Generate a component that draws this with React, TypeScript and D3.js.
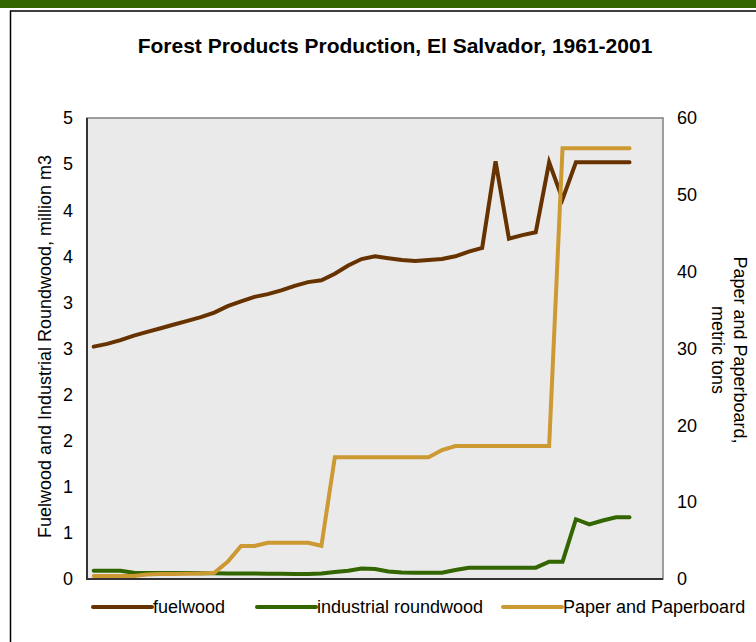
import React from 'react';
import * as d3 from 'd3';

// years 1961-2001; the category axis in the source runs two slots longer
const years = d3.range(1961, 2002);
const axisFirstYear = 1961;
const axisLastYear = 2003;

// million m3
const fuelwood = [
  2.52, 2.55, 2.59, 2.64, 2.68, 2.72, 2.76, 2.8, 2.84, 2.89,
  2.96, 3.01, 3.06, 3.09, 3.13, 3.18, 3.22, 3.24, 3.31, 3.4,
  3.47, 3.5, 3.48, 3.46, 3.45, 3.46, 3.47, 3.5, 3.55, 3.59,
  4.53, 3.69, 3.73, 3.76, 4.52, 4.12, 4.52, 4.52, 4.52, 4.52, 4.52,
];

// million m3
const industrialRoundwood = [
  0.09, 0.09, 0.09, 0.068, 0.065, 0.065, 0.065, 0.064, 0.063, 0.062,
  0.061, 0.06, 0.059, 0.058, 0.056, 0.054, 0.054, 0.06, 0.076, 0.09,
  0.114, 0.108, 0.081, 0.07, 0.068, 0.068, 0.068, 0.098, 0.123, 0.123,
  0.123, 0.123, 0.123, 0.123, 0.188, 0.188, 0.648, 0.593, 0.634, 0.669, 0.669,
];

// metric tons
const paper = [
  0.39, 0.39, 0.39, 0.39, 0.59, 0.65, 0.65, 0.68, 0.72, 0.82,
  2.25, 4.3, 4.3, 4.72, 4.72, 4.72, 4.72, 4.33, 15.84, 15.84,
  15.84, 15.84, 15.84, 15.84, 15.84, 15.84, 16.79, 17.31, 17.31, 17.31,
  17.31, 17.31, 17.31, 17.31, 17.31, 56.06, 56.06, 56.06, 56.06, 56.06, 56.06,
];

const leftTicks = d3.range(0, 5.01, 0.5);
const leftTickLabels = ['0', '1', '1', '2', '2', '3', '3', '4', '4', '5', '5'];
const rightTicks = [0, 10, 20, 30, 40, 50, 60];

const series = [
  { name: 'fuelwood', values: fuelwood, axis: 'left', color: '#663300' },
  { name: 'industrial roundwood', values: industrialRoundwood, axis: 'left', color: '#336600' },
  { name: 'Paper and Paperboard', values: paper, axis: 'right', color: '#cc9933' },
];

export default function App() {
  const W = 756;
  const H = 642;
  const plot = { left: 87, right: 663, top: 118, bottom: 579 };
  const font = '"Liberation Sans", Arial, sans-serif';

  const x = d3.scaleLinear()
    .domain([axisFirstYear - 0.5, axisLastYear + 0.5])
    .range([plot.left, plot.right]);
  const yLeft = d3.scaleLinear().domain([0, 5]).range([plot.bottom, plot.top]);
  const yRight = d3.scaleLinear().domain([0, 60]).range([plot.bottom, plot.top]);

  const lineFor = (axis: string) =>
    d3.line<number>()
      .x((_, i) => x(years[i]))
      .y(d => (axis === 'left' ? yLeft(d) : yRight(d)));

  const legendX = [93, 257, 503];

  return (
    <svg width={W} height={H} style={{ position: 'absolute', left: 0, top: 0, fontFamily: font }}>
      <rect x={0} y={0} width={W} height={H} fill="#fff" />
      <rect x={0} y={0} width={W} height={8} fill="#336600" />
      <rect x={10.5} y={11} width={W + 20} height={H + 20} fill="none" stroke="#000" strokeWidth={1.5} />

      <text x={395} y={53} textAnchor="middle" fontSize={21} fontWeight="bold" fill="#000">
        Forest Products Production, El Salvador, 1961-2001
      </text>

      <rect
        x={plot.left}
        y={plot.top}
        width={plot.right - plot.left}
        height={plot.bottom - plot.top}
        fill="#eaeaea"
        stroke="#808080"
        strokeWidth={1.5}
      />
      <line x1={plot.left} x2={plot.left} y1={plot.top} y2={plot.bottom + 1} stroke="#333" strokeWidth={2} />
      <line x1={plot.left} x2={plot.right} y1={plot.bottom} y2={plot.bottom} stroke="#333" strokeWidth={2} />

      {leftTicks.map((t, i) => (
        <text key={'l' + i} x={73} y={yLeft(t)} dy="0.35em" textAnchor="end" fontSize={18} fill="#000">
          {leftTickLabels[i]}
        </text>
      ))}
      {rightTicks.map(t => (
        <text key={'r' + t} x={677} y={yRight(t)} dy="0.35em" textAnchor="start" fontSize={18} fill="#000">
          {t}
        </text>
      ))}

      <text
        transform={`translate(51,${(plot.top + plot.bottom) / 2 - 2}) rotate(-90)`}
        textAnchor="middle"
        fontSize={18}
        fill="#000"
      >
        Fuelwood and Industrial Roundwood, million m3
      </text>
      <text
        transform={`translate(734,350) rotate(90)`}
        textAnchor="middle"
        fontSize={18}
        fill="#000"
      >
        <tspan x={0} dy={0}>Paper and Paperboard,</tspan>
        <tspan x={0} dy={22}>metric tons</tspan>
      </text>

      {series.map(s => (
        <path
          key={s.name}
          d={lineFor(s.axis)(s.values) || ''}
          fill="none"
          stroke={s.color}
          strokeWidth={4}
          strokeLinecap="round"
          strokeLinejoin="miter"
        />
      ))}

      {series.map((s, i) => (
        <g key={'lg' + s.name} transform={`translate(${legendX[i]},607)`}>
          <line x1={0} x2={59} y1={0} y2={0} stroke={s.color} strokeWidth={4} strokeLinecap="round" />
          <text x={60} y={0} dy="0.35em" fontSize={18} fill="#000">{s.name}</text>
        </g>
      ))}
    </svg>
  );
}
